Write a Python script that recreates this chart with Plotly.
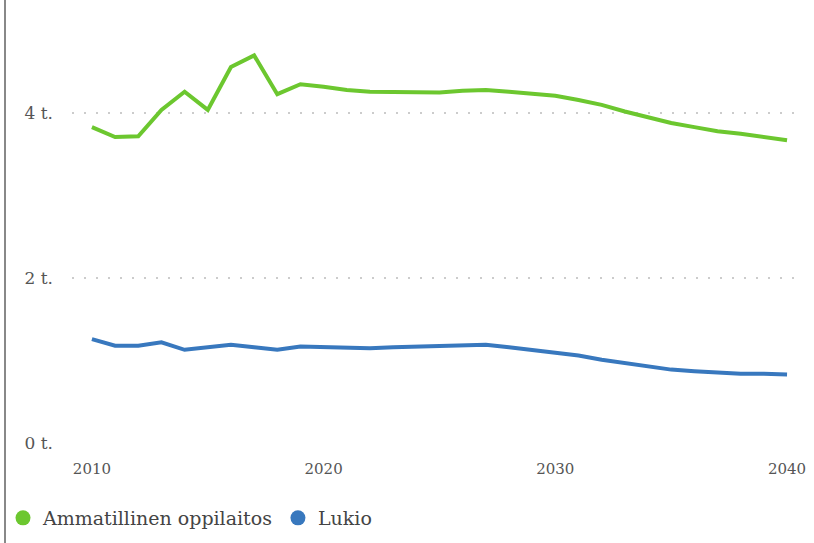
import plotly.graph_objects as go

years = list(range(2010, 2041))
ammatillinen = [3.83, 3.71, 3.72, 4.04, 4.26, 4.04, 4.56, 4.70, 4.23, 4.35,
                4.32, 4.28, 4.26, 4.26, 4.26, 4.25, 4.27, 4.28, 4.26, 4.24,
                4.21, 4.16, 4.10, 4.02, 3.95, 3.88, 3.83, 3.78, 3.75, 3.71, 3.67]
lukio = [1.26, 1.18, 1.18, 1.22, 1.13, 1.16, 1.19, 1.16, 1.13, 1.17,
         1.16, 1.16, 1.15, 1.16, 1.17, 1.17, 1.18, 1.19, 1.16, 1.13,
         1.10, 1.06, 1.01, 0.97, 0.93, 0.89, 0.87, 0.85, 0.84, 0.84, 0.83]
series_names = ["Ammatillinen oppilaitos", "Lukio"]
y_tickvals = [0, 2, 4]
y_ticktext = ["0 t.", "2 t.", "4 t."]
x_tickvals = [2010, 2020, 2030, 2040]

GREEN = "#6cc72f"
BLUE = "#3878be"
FONT = "DejaVu Serif"

fig = go.Figure()
fig.add_trace(go.Scatter(x=years, y=ammatillinen, mode="lines", name=series_names[0],
                         line=dict(color=GREEN, width=4), showlegend=False))
fig.add_trace(go.Scatter(x=years, y=lukio, mode="lines", name=series_names[1],
                         line=dict(color=BLUE, width=4), showlegend=False))
# legend entries with circle markers
fig.add_trace(go.Scatter(x=[None], y=[None], mode="markers", name=series_names[0],
                         marker=dict(color=GREEN, size=15, symbol="circle")))
fig.add_trace(go.Scatter(x=[None], y=[None], mode="markers", name=series_names[1],
                         marker=dict(color=BLUE, size=15, symbol="circle")))

W, H = 814, 543
ml, mr, mt, mb = 72, 17, 15, 100
pw = W - ml - mr
ph = H - mt - mb

fig.update_layout(
    width=W, height=H,
    margin=dict(l=ml, r=mr, t=mt, b=mb, autoexpand=False),
    paper_bgcolor="white", plot_bgcolor="white",
    font=dict(family=FONT, color="#555555", size=14),
    showlegend=True,
    legend=dict(orientation="h", xref="container", yref="container",
                x=3 / W, xanchor="left", y=(H - 518) / H, yanchor="middle",
                font=dict(size=19, color="#444444"), itemwidth=30, tracegroupgap=0,
                bgcolor="rgba(0,0,0,0)"),
    xaxis=dict(range=[2009.14, 2040.43], tickvals=x_tickvals, showgrid=False,
               zeroline=False, showline=False, ticks="", ticklabelstandoff=15,
               tickfont=dict(size=15, color="#555555")),
    yaxis=dict(range=[0, 5.19], tickvals=y_tickvals, ticktext=y_ticktext,
               showgrid=True, gridcolor="#cccccc", gridwidth=2, griddash="2px,10px",
               zeroline=False, showline=False, ticks="", ticklabelstandoff=18,
               tickfont=dict(size=17, color="#555555")),
    shapes=[dict(type="line", xref="paper", yref="paper",
                 x0=(5 - ml) / pw, x1=(5 - ml) / pw,
                 y0=-mb / ph, y1=1 + mt / ph,
                 line=dict(color="#888888", width=2))],
)

fig.write_html("out.html", config={"displayModeBar": False},
               post_script="document.body.style.margin='0';")
